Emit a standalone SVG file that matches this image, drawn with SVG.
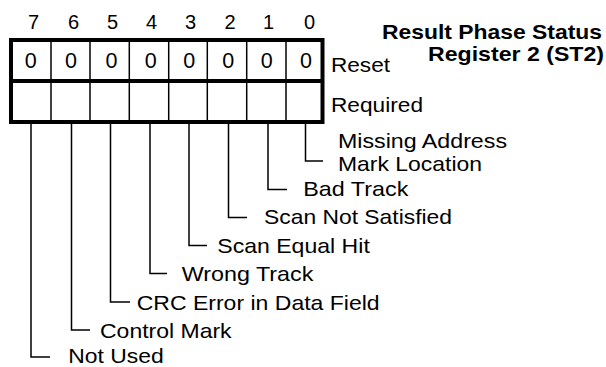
<svg xmlns="http://www.w3.org/2000/svg" width="606" height="367" viewBox="0 0 606 367">
<style>
text{font-family:"Liberation Sans",Arial,sans-serif;fill:#000}
.lbl{font-size:21px}
.dig{font-size:20px;text-anchor:middle}
.zero{font-size:21.5px;text-anchor:middle}
.title{font-size:21px;font-weight:bold;text-anchor:end}
.thin{stroke:#000;stroke-width:1.5;fill:none}
.thick{stroke:#000;stroke-width:4;fill:none}
</style>
<rect width="606" height="367" fill="#fff"/>
<g id="title">
<text class="title" x="602" y="38.5" textLength="220" lengthAdjust="spacingAndGlyphs">Result Phase Status</text>
<text class="title" x="604" y="61" textLength="176" lengthAdjust="spacingAndGlyphs">Register 2 (ST2)</text>
</g>
<g id="bit-numbers">
<text class="dig" x="33.5" y="28.5">7</text>
<text class="dig" x="73.5" y="28.5">6</text>
<text class="dig" x="112.5" y="28.5">5</text>
<text class="dig" x="151.5" y="28.5">4</text>
<text class="dig" x="190.5" y="28.5">3</text>
<text class="dig" x="230" y="28.5">2</text>
<text class="dig" x="268.5" y="28.5">1</text>
<text class="dig" x="309.5" y="28.5">0</text>
</g>
<g id="register">
<line class="thin" x1="51" y1="40" x2="51" y2="122"/>
<line class="thin" x1="90" y1="40" x2="90" y2="122"/>
<line class="thin" x1="129.3" y1="40" x2="129.3" y2="122"/>
<line class="thin" x1="168.7" y1="40" x2="168.7" y2="122"/>
<line class="thin" x1="207.3" y1="40" x2="207.3" y2="122"/>
<line class="thin" x1="246.7" y1="40" x2="246.7" y2="122"/>
<line class="thin" x1="286" y1="40" x2="286" y2="122"/>
<rect class="thick" x="11" y="40" width="311.5" height="82"/>
<line class="thick" x1="11" y1="81" x2="322.5" y2="81"/>
<text class="zero" x="30.7" y="68.3">0</text>
<text class="zero" x="71" y="68.3">0</text>
<text class="zero" x="111.5" y="68.3">0</text>
<text class="zero" x="150.7" y="68.3">0</text>
<text class="zero" x="189.3" y="68.3">0</text>
<text class="zero" x="228.3" y="68.3">0</text>
<text class="zero" x="266.7" y="68.3">0</text>
<text class="zero" x="306" y="68.3">0</text>
<text class="lbl" x="331" y="71.5" textLength="59" lengthAdjust="spacingAndGlyphs">Reset</text>
<text class="lbl" x="331" y="112" textLength="92" lengthAdjust="spacingAndGlyphs">Required</text>
</g>
<g id="connectors">
<polyline class="thin" points="305.5,124 305.5,161 323,161"/>
<polyline class="thin" points="268,124 268,189.5 287,189.5"/>
<polyline class="thin" points="228.5,124 228.5,217.5 247,217.5"/>
<polyline class="thin" points="189,124 189,245.5 207,245.5"/>
<polyline class="thin" points="150,124 150,273.5 167,273.5"/>
<polyline class="thin" points="110.5,124 110.5,302 130,302"/>
<polyline class="thin" points="71.5,124 71.5,330 90,330"/>
<polyline class="thin" points="31,124 31,357 50,357"/>
</g>
<g id="bit0"><text class="lbl" x="338" y="148" textLength="169" lengthAdjust="spacingAndGlyphs">Missing Address</text><text class="lbl" x="338" y="170.5" textLength="144" lengthAdjust="spacingAndGlyphs">Mark Location</text></g>
<g id="bit1"><text class="lbl" x="303.3" y="196" textLength="105" lengthAdjust="spacingAndGlyphs">Bad Track</text></g>
<g id="bit2"><text class="lbl" x="264" y="224" textLength="188" lengthAdjust="spacingAndGlyphs">Scan Not Satisfied</text></g>
<g id="bit3"><text class="lbl" x="217.3" y="252.5" textLength="152.5" lengthAdjust="spacingAndGlyphs">Scan Equal Hit</text></g>
<g id="bit4"><text class="lbl" x="181.7" y="281" textLength="131.6" lengthAdjust="spacingAndGlyphs">Wrong Track</text></g>
<g id="bit5"><text class="lbl" x="136.7" y="309.8" textLength="243" lengthAdjust="spacingAndGlyphs">CRC Error in Data Field</text></g>
<g id="bit6"><text class="lbl" x="100" y="338" textLength="131.6" lengthAdjust="spacingAndGlyphs">Control Mark</text></g>
<g id="bit7"><text class="lbl" x="68.3" y="362.5" textLength="95.5" lengthAdjust="spacingAndGlyphs">Not Used</text></g>
</svg>
